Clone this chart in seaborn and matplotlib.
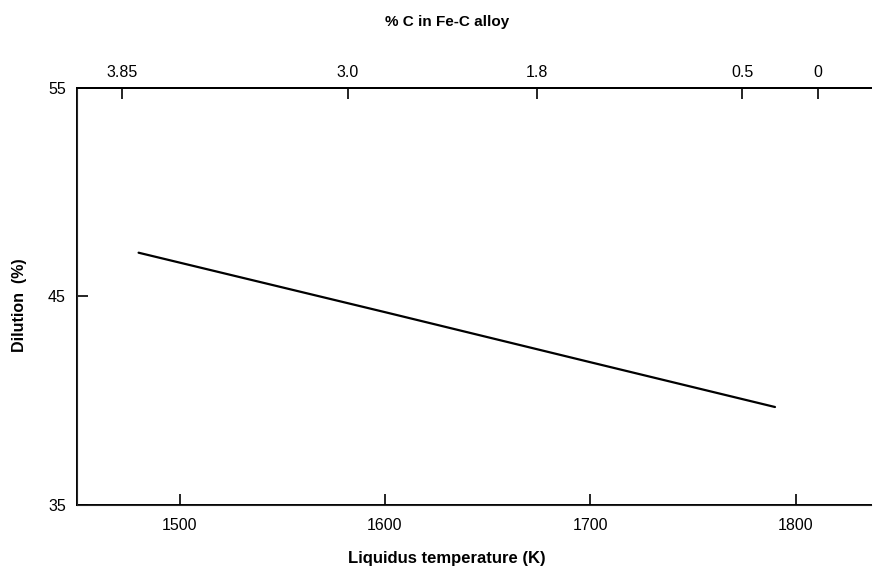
import matplotlib
matplotlib.use("Agg")
import matplotlib.pyplot as plt
import seaborn as sns
import pandas as pd

# ---- data ----
liquidus_temp = [1480, 1600, 1700, 1790]
dilution = [47.1, 44.25, 41.85, 39.7]
temp_ticks = [1500, 1600, 1700, 1800]
dilution_ticks = [35, 45, 55]
carbon_tick_temps = [1472, 1582, 1674, 1774, 1811]
carbon_tick_labels = ["3.85", "3.0", "1.8", "0.5", "0"]

sns.set_style("ticks")
plt.rcParams['font.family'] = ["Liberation Sans", "DejaVu Sans"]
plt.rcParams['text.color'] = "black"
plt.rcParams['xtick.color'] = "black"
plt.rcParams['ytick.color'] = "black"
plt.rcParams['axes.labelcolor'] = "black"

fig = plt.figure(figsize=(8.74, 5.72), dpi=100)
ax = fig.add_axes([0.0881, 0.1171, 0.909, 0.7291])

df = pd.DataFrame({"T": liquidus_temp, "D": dilution})
sns.lineplot(data=df, x="T", y="D", ax=ax, color="black", linewidth=1.6)

ax.set_xlim(1450, 1837)
ax.set_ylim(35, 55)
ax.set_xticks(temp_ticks)
ax.set_yticks(dilution_ticks)
ax.set_xticklabels([str(t) for t in temp_ticks], fontsize=11.5)
ax.set_yticklabels([str(t) for t in dilution_ticks], fontsize=11.5)
ax.tick_params(axis="both", direction="in", length=8, width=1.2, colors="black", pad=9)
ax.tick_params(axis="y", pad=8)
for s in ["left", "bottom", "top"]:
    ax.spines[s].set_visible(True)
    ax.spines[s].set_linewidth(1.4)
    ax.spines[s].set_color("black")
ax.spines["right"].set_visible(False)
ax.set_xlabel("")
ax.set_ylabel("")

ax2 = ax.twiny()
ax2.set_xlim(ax.get_xlim())
ax2.set_xticks(carbon_tick_temps)
ax2.set_xticklabels(carbon_tick_labels, fontsize=11.5)
ax2.tick_params(axis="x", direction="in", length=8, width=1.2, pad=6, colors="black")
ax2.spines["right"].set_visible(False)
ax2.spines["top"].set_linewidth(1.4)
ax2.spines["top"].set_color("black")

fig.text(447 / 874, 1 - 558 / 572, "Liquidus temperature (K)", fontsize=12,
         fontweight="bold", ha="center", va="center", color="black")
fig.text(447 / 874, 1 - 22 / 572, "% C in Fe-C alloy", fontsize=11,
         fontweight="bold", ha="center", va="center", color="black")
fig.text(20 / 874, 1 - 305 / 572, "Dilution  (%)", fontsize=11.5,
         fontweight="bold", ha="center", va="center", rotation=90, color="black")

fig.savefig("out.png", dpi=100)
